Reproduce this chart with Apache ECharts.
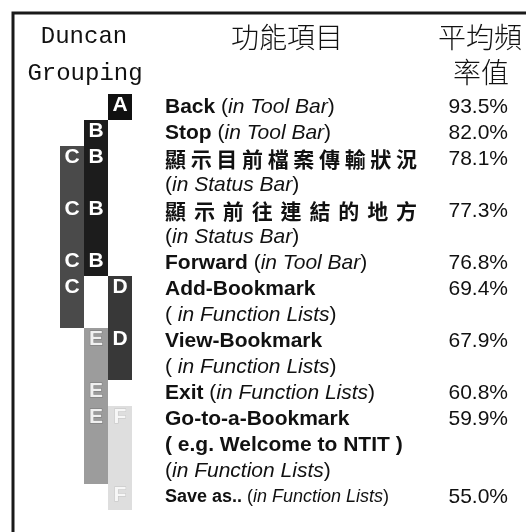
<!DOCTYPE html>
<html>
<head>
<meta charset="utf-8">
<script src="https://cdn.jsdelivr.net/npm/echarts@6/dist/echarts.min.js"></script>
<style>
html, body { margin: 0; padding: 0; background: #fff; }
#main { width: 526px; height: 532px; }
</style>
</head>
<body>
<div id="main"></div>
<script>
// 每一行的文字（功能項目）
const rowText = [
  '{b|Back} ({i|in Tool Bar})',
  '{b|Stop} ({i|in Tool Bar})',
  '顯示目前檔案傳輸狀況',
  '({i|in Status Bar})',
  '顯示前往連結的地方',
  '({i|in Status Bar})',
  '{b|Forward} ({i|in Tool Bar})',
  '{b|Add-Bookmark}',
  '( {i|in Function Lists})',
  '{b|View-Bookmark}',
  '( {i|in Function Lists})',
  '{b|Exit} ({i|in Function Lists})',
  '{b|Go-to-a-Bookmark}',
  '{b|( e.g. Welcome to NTIT )}',
  '({i|in Function Lists})',
  '{bs|Save as..} {s|(}{is|in Function Lists}{s|)}'
]
// 每個項目的第一行
const itemRows = [0, 1, 2, 4, 6, 7, 9, 11, 12, 15]
// 平均頻率值 (%)
const frequency = [93.5, 82.0, 78.1, 77.3, 76.8, 69.4, 67.9, 60.8, 59.9, 55.0]
// Duncan grouping
const itemGroups = ['A', 'B', 'CB', 'CB', 'CB', 'CD', 'ED', 'E', 'EF', 'F']
const groupLetters = ['A', 'B', 'C', 'D', 'E', 'F']
const groupColumn = [2, 1, 0, 2, 1, 2]

const groupFill = ['#111111', '#1c1c1c', '#4a4a4a', '#383838', '#9c9c9c', '#dedede']
const letterFill = ['#fff', '#fff', '#fff', '#fff', '#f0f0f0', '#f7f7f7']
const letterStroke = [null, null, null, null, '#777', '#c4c4c4']

// 每個分組從第一個項目延伸到最後一個項目
const spans = groupLetters.map((g, k) => {
  const items = itemGroups.map((s, i) => (s.includes(g) ? i : -1)).filter(i => i >= 0)
  const last = items[items.length - 1]
  const endRow = last + 1 < itemRows.length ? itemRows[last + 1] - 1 : rowText.length - 1
  return [groupColumn[k], itemRows[items[0]], endRow, k]
})
const letters = []
itemGroups.forEach((s, i) => {
  s.split('').forEach(g => {
    const k = groupLetters.indexOf(g)
    letters.push([groupColumn[k] + 0.5, itemRows[i], k])
  })
})

const sans = 'Liberation Sans'
const cjk = 'Noto Sans CJK TC'
const ink = '#111'
const cjkSize = 21
const cjkWidth = 252
const rich = {
  b: { fontWeight: 'bold', fontSize: 21, fontFamily: sans, fill: ink },
  i: { fontStyle: 'italic', fontSize: 21, fontFamily: sans, fill: ink },
  bs: { fontWeight: 'bold', fontSize: 18, fontFamily: sans, fill: ink },
  s: { fontSize: 18, fontFamily: sans, fill: ink },
  is: { fontStyle: 'italic', fontSize: 18, fontFamily: sans, fill: ink }
}

const myChart = echarts.init(document.getElementById('main'))
const option = {
  animation: false,
  backgroundColor: '#fff',
  grid: [
    { left: 60, right: 394, top: 94, bottom: 22 },
    { left: 165, right: 18, top: 94, bottom: 22 }
  ],
  xAxis: [
    { type: 'value', gridIndex: 0, min: 0, max: 3, show: false },
    { type: 'value', gridIndex: 1, min: 0, max: 1, show: false }
  ],
  yAxis: [
    { type: 'category', gridIndex: 0, data: rowText, inverse: true, show: false },
    { type: 'category', gridIndex: 1, data: rowText, inverse: true, show: false }
  ],
  graphic: [
    // 外框
    { type: 'polyline', shape: { points: [[13, 532], [13, 13], [526, 13]] }, style: { stroke: '#1a1a1a', lineWidth: 3, fill: null } },
    { type: 'text', x: 84, y: 37, style: { text: 'Duncan', fontSize: 24, fontFamily: 'Liberation Mono', fill: ink, align: 'center', verticalAlign: 'middle' } },
    { type: 'text', x: 85, y: 74, style: { text: 'Grouping', fontSize: 24, fontFamily: 'Liberation Mono', fill: ink, align: 'center', verticalAlign: 'middle' } },
    { type: 'text', x: 287, y: 37, style: { text: '功能項目', fontSize: 28, fontFamily: cjk, fontWeight: 300, fill: ink, align: 'center', verticalAlign: 'middle' } },
    { type: 'text', x: 480, y: 37, style: { text: '平均頻', fontSize: 28, fontFamily: cjk, fontWeight: 300, fill: ink, align: 'center', verticalAlign: 'middle' } },
    { type: 'text', x: 481, y: 72, style: { text: '率值', fontSize: 28, fontFamily: cjk, fontWeight: 300, fill: ink, align: 'center', verticalAlign: 'middle' } }
  ],
  series: [
    {
      // 分組長條
      type: 'custom',
      xAxisIndex: 0,
      yAxisIndex: 0,
      data: spans,
      renderItem(params, api) {
        const col = api.value(0)
        const p0 = api.coord([col, api.value(1)])
        const p1 = api.coord([col + 1, api.value(2)])
        const band = api.size([0, 1])[1]
        return {
          type: 'rect',
          shape: { x: p0[0], y: p0[1] - band / 2, width: p1[0] - p0[0], height: p1[1] - p0[1] + band },
          style: { fill: groupFill[api.value(3)] }
        }
      }
    },
    {
      // 分組字母
      type: 'custom',
      xAxisIndex: 0,
      yAxisIndex: 0,
      data: letters,
      z: 3,
      renderItem(params, api) {
        const k = api.value(2)
        const p = api.coord([api.value(0), api.value(1)])
        return {
          type: 'text',
          x: p[0],
          y: p[1] - 2,
          style: {
            text: groupLetters[k],
            fontSize: 21,
            fontWeight: 'bold',
            fontFamily: sans,
            fill: letterFill[k],
            stroke: letterStroke[k],
            lineWidth: letterStroke[k] ? 1 : 0,
            align: 'center',
            verticalAlign: 'middle'
          }
        }
      }
    },
    {
      // 功能項目文字
      type: 'custom',
      xAxisIndex: 1,
      yAxisIndex: 1,
      data: rowText.map((t, i) => [0, i]),
      renderItem(params, api) {
        const row = api.value(1)
        const p = api.coord([0, row])
        const text = rowText[row]
        if (/[\u4e00-\u9fff]/.test(text)) {
          const chars = Array.from(text)
          const pitch = (cjkWidth - cjkSize) / (chars.length - 1)
          return {
            type: 'group',
            children: chars.map((c, k) => ({
              type: 'text',
              x: p[0] + k * pitch,
              y: p[1],
              style: { text: c, fontSize: cjkSize, fontFamily: cjk, fontWeight: 'bold', fill: ink, align: 'left', verticalAlign: 'middle' }
            }))
          }
        }
        return {
          type: 'text',
          x: p[0],
          y: p[1],
          style: { text: text, rich: rich, fontSize: row === 15 ? 18 : 21, fontFamily: sans, fill: ink, align: 'left', verticalAlign: 'middle' }
        }
      }
    },
    {
      // 平均頻率值
      type: 'custom',
      xAxisIndex: 1,
      yAxisIndex: 1,
      data: frequency.map((v, i) => [1, itemRows[i], v]),
      renderItem(params, api) {
        const p = api.coord([1, api.value(1)])
        return {
          type: 'text',
          x: p[0],
          y: p[1],
          style: { text: api.value(2).toFixed(1) + '%', fontSize: 21, fontFamily: sans, fill: ink, align: 'right', verticalAlign: 'middle' }
        }
      }
    }
  ]
}
myChart.setOption(option)
</script>
</body>
</html>
